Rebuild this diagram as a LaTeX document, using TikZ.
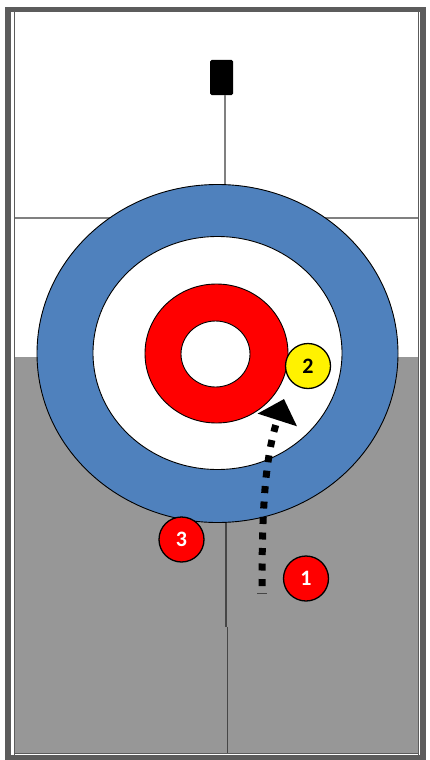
\documentclass[tikz,border=0pt]{standalone}
\usepackage{fontspec}
\setmainfont{Carlito}
\usepackage{xcolor}
\usetikzlibrary{arrows.meta}
\definecolor{houseblue}{RGB}{79,129,189}
\definecolor{icegray}{RGB}{151,151,151}
\definecolor{framegray}{RGB}{92,92,92}
\definecolor{linegray}{RGB}{128,128,128}
\definecolor{teegray}{RGB}{70,70,70}

\begin{document}
\begin{tikzpicture}[
  x=1pt, y=-1pt,
  ring/.style={draw=black, line width=0.9pt},
  stone/.style={circle, draw=black, line width=1.3pt, minimum size=45pt, inner sep=0pt, font=\fontsize{22}{22}\selectfont\bfseries},
  redstone/.style={stone, fill=red, text=white},
  yellowstone/.style={stone, fill=yellow, text=black},
  sheetline/.style={line width=1.6pt},
  shot/.style={draw, line width=7pt, dash pattern=on 7pt off 8.5pt, -{Triangle[length=22pt, width=40pt]}},
]
  \useasboundingbox (0,0) rectangle (430,760);

  % Sheet: white behind the back line, grey ice in front of it.
  \fill[white] (13,12) rectangle (420,755);
  \fill[icegray] (15,357) rectangle (418,753);
  \draw[framegray, line width=5.5pt] (7.75,9.75) rectangle (422.75,757.5);
  \draw[sheetline, framegray] (14.5,12) -- (14.5,755);
  \draw[sheetline, framegray] (418.5,12) -- (418.5,755);
  \draw[sheetline, framegray] (15,753.5) -- (418,753.5);

  % Hack, centre line and back line.
  \node[fill=black, rounded corners=1.5pt, minimum width=23pt, minimum height=35pt, inner sep=0pt] (hack) at (221.5,77.5) {};
  \draw[linegray, line width=1.8pt] (15,218) -- (418,218);
  \draw[linegray, line width=1.8pt] (225,95) -- (225,185);
  \draw[teegray, line width=1.6pt] (226,522) -- (226,627);
  \draw[teegray, line width=1.6pt] (227.5,627) -- (227.5,753);

  % House: 12-foot, 8-foot, 4-foot rings and button.
  \filldraw[ring, fill=houseblue] (217.5,353.5) ellipse [x radius=180.5pt, y radius=169pt];
  \filldraw[ring, fill=white] (217.5,353) ellipse [x radius=124.5pt, y radius=116.5pt];
  \filldraw[ring, fill=red] (216.5,353.5) ellipse [x radius=71.5pt, y radius=69.5pt];
  \filldraw[ring, fill=white] (215.5,354) ellipse [x radius=34.5pt, y radius=33pt];

  % Stones in the order they were played.
  \node[redstone] (stone1) at (306,578.5) {1};
  \node[yellowstone] (stone2) at (308,366) {2};
  \node[redstone] (stone3) at (181.5,539.5) {3};

  % Path of the shot into the house.
  \coordinate (shottail) at (262,593);
  \coordinate (shotstart) at (262,586);
  \coordinate (shottip) at (284,399);
  \draw[teegray, line width=1pt] ([xshift=-5pt]shottail) -- ([xshift=5pt]shottail);
  \draw[shot] (shotstart) .. controls (262,500) and (266,455) .. (shottip);
\end{tikzpicture}
\end{document}
